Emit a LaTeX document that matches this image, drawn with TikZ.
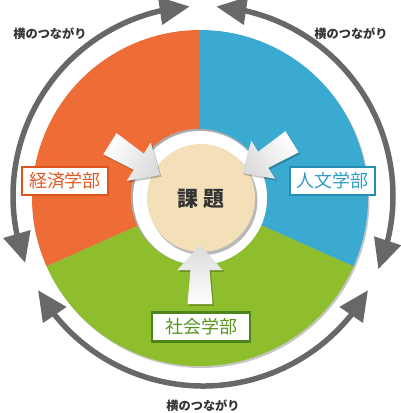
\documentclass[tikz,border=0pt]{standalone}
\usepackage{fontspec}
\newfontfamily\jp{Noto Sans CJK JP}
\usetikzlibrary{arrows.meta,bending}
\definecolor{secorange}{RGB}{238,108,54}
\definecolor{secblue}{RGB}{59,170,208}
\definecolor{secgreen}{RGB}{142,190,46}
\definecolor{beige}{RGB}{243,224,185}
\definecolor{arcgray}{RGB}{104,104,104}
\definecolor{txtgray}{RGB}{51,51,51}
\definecolor{bdorange}{RGB}{222,84,28}
\definecolor{bdblue}{RGB}{38,142,178}
\definecolor{bdgreen}{RGB}{78,132,28}
\definecolor{txorange}{RGB}{228,90,38}
\definecolor{txblue}{RGB}{48,156,196}
\definecolor{txgreen}{RGB}{88,148,32}
\newcommand\myblkarrow[5]{%
  \begin{scope}[shift={(#1+1.5,#2+1.8)},rotate=#3]
    \fill[black,opacity=.22] (0,0) -- (-25,22.5) -- (-25,9.5) -- (-59,12.5) -- (-59,-12.5) -- (-25,-9.5) -- (-25,-22.5) -- cycle;
  \end{scope}
  \begin{scope}[shift={(#1,#2)},rotate=#3]
    \shade[top color=gray!28,bottom color=white,shading angle=#4] (0,0) -- (-25,22.5) -- (-25,9.5) -- (-59,12.5) -- (-59,-12.5) -- (-25,-9.5) -- (-25,-22.5) -- cycle;
    \coordinate (#5) at (0,0);
  \end{scope}}
\begin{document}
\begin{tikzpicture}[x=1pt,y=-1pt,
  outerarc/.style={line width=5.5pt, draw=arcgray,
    arrows={Triangle[length=30pt,width=27pt,fill=arcgray]-Triangle[length=30pt,width=27pt,fill=arcgray]}},
  linktext/.style={text=txtgray, font=\jp\bfseries\fontsize{12.2}{12.2}\selectfont, inner sep=0pt},
  dept/.style={line width=2.2pt, fill=white, inner sep=0pt, minimum height=28pt,
    font=\jp\fontsize{18}{18}\selectfont}]
\useasboundingbox (0,0) rectangle (400,413);
% disc shadow
\fill[gray!45] (201.5,200) circle[radius=168];
% sectors
\fill[secorange] (200,198) -- ++(-90:168) arc[start angle=-90, end angle=-204, radius=168] -- cycle;
\fill[secblue] (200,198) -- ++(-90:168) arc[start angle=-90, end angle=24, radius=168] -- cycle;
\fill[secgreen] (200,198) -- ++(24:168) arc[start angle=24, end angle=156, radius=168] -- cycle;
% central ring
\fill[gray!65] (199,196.8) circle[radius=68];
\fill[white] (200,198) circle[radius=67];
\fill[gray!55] (203,200.5) circle[radius=54.5];
\fill[beige] (201,198) circle[radius=54];
\node[text=txtgray, font=\jp\bfseries\fontsize{21}{21}\selectfont, inner sep=0pt] (kadai) at (201,199) {課\hspace{6pt}題};
% block arrows
\myblkarrow{160}{175}{-32}{-122}{tipa}
\myblkarrow{242}{173}{212}{122}{tipb}
\myblkarrow{200}{245}{90}{0}{tipc}
% outer arcs
\draw[outerarc] (203,196) ++(-94:190) arc[start angle=-94, end angle=-200.6, radius=190];
\draw[outerarc] (203,196) ++(-86:190) arc[start angle=-86, end angle=22.7, radius=190];
\draw[outerarc] (203,196) ++(150.3:190) arc[start angle=150.3, end angle=29.7, radius=190];
% link labels
\node[linktext] (linka) at (50,34) {横のつながり};
\node[linktext] (linkb) at (351,34) {横のつながり};
\node[linktext] (linkc) at (203,406) {横のつながり};
% department labels
\node[dept, draw=bdorange, text=txorange, minimum width=86pt] (keizai) at (65,181) {経済学部};
\node[dept, draw=bdblue, text=txblue, minimum width=85pt] (jinbun) at (332.5,181) {人文学部};
\node[dept, draw=bdgreen, text=txgreen, minimum width=98pt, minimum height=29pt] (shakai) at (201,327) {社会学部};
\end{tikzpicture}
\end{document}
